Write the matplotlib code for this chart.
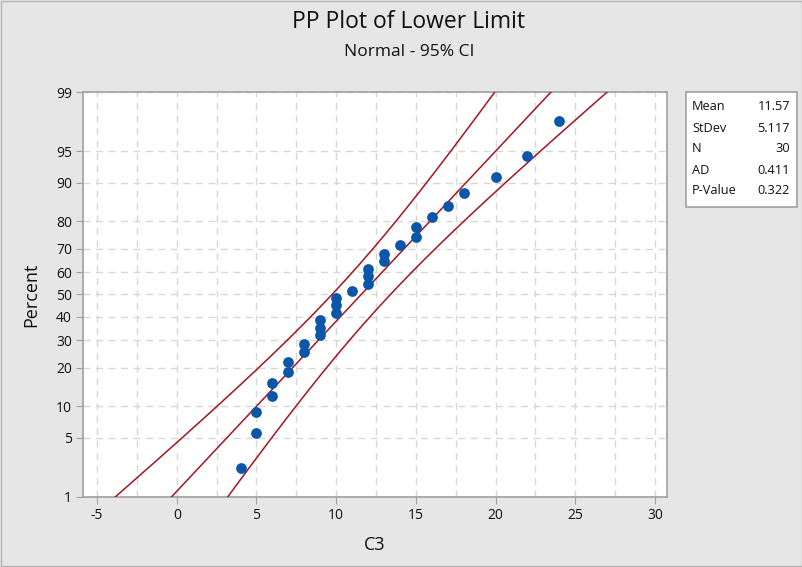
import numpy as np
import matplotlib
matplotlib.use("Agg")
import matplotlib.pyplot as plt
from matplotlib.patches import Rectangle
from statistics import NormalDist

# ── data ─────────────────────────────────────────────────────────────────────
values = [4, 5, 5, 6, 6, 7, 7, 8, 8, 9, 9, 9, 10, 10, 10, 11, 12, 12, 12,
          13, 13, 14, 15, 15, 16, 17, 18, 20, 22, 24]
percents = [2.3, 5.6, 8.9, 12.2, 15.5, 18.8, 22.0, 25.3, 28.6, 31.9, 35.2,
            38.5, 41.8, 45.1, 48.4, 51.6, 54.9, 58.2, 61.5, 64.8, 68.1, 71.4,
            74.7, 78.0, 81.3, 84.5, 87.8, 91.1, 94.4, 97.7]

stat_names = ["Mean", "StDev", "N", "AD", "P-Value"]
stat_values = ["11.57", "5.117", "30", "0.411", "0.322"]
mean, stdev, n = 11.57, 5.117, 30

y_ticks = [1, 5, 10, 20, 30, 40, 50, 60, 70, 80, 90, 95, 99]
x_ticks = [-5, 0, 5, 10, 15, 20, 25, 30]

RED = "#a3161f"
BLUE = "#0a56a8"
GRAY_BG = "#e6e6e6"
FONT = ["Open Sans", "DejaVu Sans"]
plt.rcParams["axes.unicode_minus"] = False

nd = NormalDist()
_inv = np.vectorize(lambda q: nd.inv_cdf(q / 100.0), otypes=[float])
_cdf = np.vectorize(lambda v: nd.cdf(v) * 100.0, otypes=[float])


def to_z(p):
    p = np.clip(np.asarray(p, dtype=float), 1e-6, 100 - 1e-6)
    return _inv(p)


def to_pct(z):
    return _cdf(np.asarray(z, dtype=float))


# ── figure ───────────────────────────────────────────────────────────────────
fig = plt.figure(figsize=(8.03, 5.67), dpi=100, facecolor=GRAY_BG)
fig.patches.append(Rectangle((0.001, 0.001), 0.998, 0.998, transform=fig.transFigure,
                             fill=False, edgecolor="#b4b4b4", lw=1))
ax = fig.add_axes([0.1034, 0.1235, 0.7272, 0.7142])
ax.set_facecolor("white")
ax.set_yscale("function", functions=(to_z, to_pct))

# fitted line + 95% CI on percentiles
pgrid = np.linspace(0.2, 99.8, 400)
z = to_z(pgrid)
fit = mean + stdev * z
half = 1.96 * stdev * np.sqrt(1.0 / n + z ** 2 / (2.0 * n))
for xs in (fit, fit - half, fit + half):
    ax.plot(xs, pgrid, color=RED, lw=1.1, zorder=3)

ax.scatter(values, percents, s=60, color=BLUE, zorder=4, linewidths=0)

ax.set_xlim(-5.88, 30.75)
ax.set_ylim(1, 99)
ax.set_xticks(x_ticks)
ax.set_xticks(np.arange(-5, 30.1, 2.5), minor=True)
ax.set_yticks(y_ticks)
ax.set_yticklabels([str(t) for t in y_ticks])
ax.yaxis.set_minor_locator(matplotlib.ticker.NullLocator())

ax.grid(True, which="both", axis="x", ls=(0, (5, 4)), color="#d7d7d7", lw=1)
ax.grid(True, which="major", axis="y", ls=(0, (5, 4)), color="#d7d7d7", lw=1)
ax.set_axisbelow(True)

for side in ("top", "right", "left", "bottom"):
    ax.spines[side].set_color("#a0a0a0")
    ax.spines[side].set_linewidth(1.2)
ax.tick_params(axis="both", which="major", length=5, color="#a0a0a0",
               labelsize=10, labelcolor="#111111", pad=3)
ax.tick_params(axis="x", which="minor", length=0)
for lab in ax.get_xticklabels() + ax.get_yticklabels():
    lab.set_family(FONT)

ax.set_xlabel("C3", fontsize=13, family=FONT, color="#111111", labelpad=9)
ax.set_ylabel("Percent", fontsize=13, family=FONT, color="#111111", labelpad=11)

fig.text(0.509, 0.961, "PP Plot of Lower Limit", ha="center", va="center",
         fontsize=16.5, family=FONT, color="#111111")
fig.text(0.509, 0.908, "Normal - 95% CI", ha="center", va="center",
         fontsize=12.5, family=FONT, color="#111111")

# stats box
fig.patches.append(Rectangle((0.8543, 0.6349), 0.1382, 0.2028, transform=fig.transFigure,
                             facecolor="white", edgecolor="#a0a0a0", lw=1.2))
rows_y = [106, 128, 149, 170, 191]
for name, val, yp in zip(stat_names, stat_values, rows_y):
    fig.text(692 / 803, 1 - yp / 567, name, ha="left", va="center",
             fontsize=9.2, family=FONT, color="#111111")
    fig.text(790 / 803, 1 - yp / 567, val, ha="right", va="center",
             fontsize=9.2, family=FONT, color="#111111")

fig.savefig("out.png", dpi=100, facecolor=GRAY_BG)
